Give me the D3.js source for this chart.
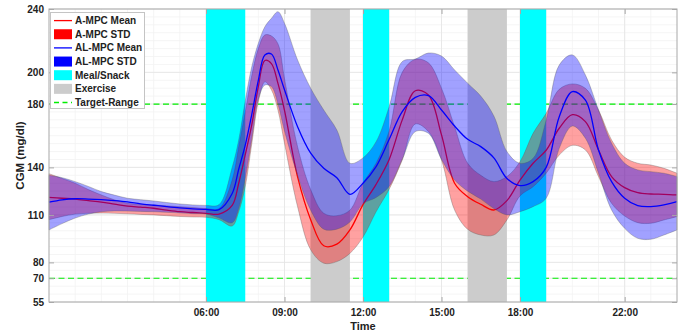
<!DOCTYPE html>
<html lang="en">
<head>
<meta charset="UTF-8">
<title>CGM: A-MPC vs AL-MPC</title>
<script src="https://cdnjs.cloudflare.com/ajax/libs/d3/7.8.5/d3.min.js"></script>
<style>
    body { margin: 0; background: #fff; }
    svg { display: block; font-family: "Liberation Sans", Arial, Helvetica, sans-serif; }
</style>
</head>
<body>
<svg width="684" height="332"></svg>
<script>

// time of day in hours
const hours = [0, 0.5, 1, 1.5, 2, 2.5, 3, 3.5, 4, 4.5, 5, 5.5, 6, 6.5, 7, 7.25, 7.5, 7.75, 8, 8.25, 8.5, 8.75, 9,
    9.5, 10, 10.5, 11, 11.5, 12, 12.5, 13, 13.5, 14, 14.5, 15, 15.5, 16, 16.5, 17, 17.5, 18, 18.5, 19, 19.5,
    20, 20.5, 21, 21.5, 22, 22.5, 23, 23.5, 24];

// A-MPC (red)
const aMean = [121, 120.5, 120, 119, 118, 116.8, 115.6, 114.9, 114.2, 113, 112, 111.5, 111, 110.5, 116, 130, 148, 167, 191, 207.5, 205.5, 193, 176,
    134, 107, 90.5, 91.5, 100.5, 116.5, 129.3, 145, 170, 188.4, 185.7, 160.5, 130, 121.5, 116.7, 113.1, 119, 132, 142.6, 150.8, 164.7,
    173.3, 168.9, 151, 134.2, 127.2, 124, 123.2, 123, 122.6];
const aUpper = [136, 133, 130, 126, 122.6, 119.5, 117.3, 116.5, 116.3, 115.7, 115.2, 114.6, 114, 114, 132, 153, 175, 198, 215, 223.6, 223, 218, 196,
    153, 126, 111, 109.5, 113, 130, 142.6, 163, 200, 208.2, 206, 190, 165.7, 142.6, 135, 131, 134.2, 143.6, 161.5, 174.1, 189.3,
    192.7, 189.9, 176.2, 157.3, 146.4, 142.6, 141.5, 139.4, 136.3];
const aLower = [107, 109, 110.5, 111, 111.2, 111, 110.7, 110.3, 110, 109.5, 109, 108.7, 108.5, 107, 103, 112, 128, 155, 181.5, 194, 189, 176.2, 155.2,
    115.2, 88, 79.5, 80.5, 85.7, 96, 112, 126.2, 144.7, 167.4, 162.6, 144.7, 113.1, 100.9, 97.3, 97.3, 106.8, 122, 127.8, 136.3, 147.8,
    153.9, 151, 134.2, 117.3, 109.3, 105.1, 104.7, 106.8, 108.9];

// AL-MPC (blue)
const alMean = [118, 119.5, 120.2, 120, 119.6, 119, 118.2, 117, 116.1, 115.2, 114.4, 113.8, 113.5, 113.3, 123.5, 138.8, 154, 173.5, 195, 211, 211.6, 201.5, 189,
    165.7, 149, 139.4, 133.5, 123, 130, 140.5, 157.7, 175.2, 184.2, 185.3, 176.2, 166.1, 157.7, 153.1, 146, 133, 128.5, 131, 140, 172,
    187.8, 182.5, 151, 131, 120.5, 115.8, 115.2, 116.3, 118.4];
const alUpper = [135, 133.5, 131, 128, 124.7, 122.5, 120.5, 119.6, 118.8, 117.8, 116.9, 116.3, 116, 116.5, 140, 157.3, 182, 203.6, 218.3, 228.8, 234.1, 238.3, 231,
    207.8, 190, 176.2, 163.6, 142.6, 146, 156.2, 178.3, 206.8, 208.4, 212.2, 210.3, 201.5, 193.1, 185, 172.5, 150, 142.6, 145.7, 169.9, 204.6,
    211, 198.3, 176.2, 155.2, 142.6, 138.4, 137.3, 136.3, 134.2];
const alLower = [100.5, 104.5, 108, 110.5, 112, 112.5, 112.4, 112.2, 112, 111.6, 111.2, 110.8, 110.5, 108, 105, 114, 133, 158, 183, 192, 191, 180, 163,
    135, 113, 101, 101, 105.5, 117, 121, 128, 145.1, 162.6, 161.5, 145, 132, 125, 120, 114, 110, 112, 115.2, 120.5, 152,
    166.1, 158.4, 136.3, 113.1, 101.5, 95.2, 94.6, 97.3, 100.5];

// events
const mealStart = [6, 12, 18];
const mealEnd = [7.5, 13, 19];
const exerciseStart = [10, 16];
const exerciseEnd = [11.5, 17.5];
const targetRange = [70, 180];

// axes
const xTicks = [6, 9, 12, 15, 18, 22];
const xTickLabels = ["06:00", "09:00", "12:00", "15:00", "18:00", "22:00"];
const yTicks = [55, 70, 80, 110, 140, 180, 200, 240];
const legendLabels = ["A-MPC Mean", "A-MPC STD", "AL-MPC Mean", "AL-MPC STD", "Meal/Snack", "Exercise", "Target-Range"];

const svg = d3.select("svg");
const plotLeft = 49, plotRight = 677, plotTop = 9, plotBottom = 302;
const axisColor = "#a8a8a8";

const x = d3.scaleLinear().domain([0, 24]).range([plotLeft, plotRight]);
const y = d3.scaleLinear().domain([55, 240]).range([plotBottom, plotTop]);

// grid, minor then major
const grid = svg.append("g");
grid.selectAll(".vminor").data(d3.range(1, 24)).enter().append("line")
    .attr("x1", d => x(d)).attr("x2", d => x(d)).attr("y1", plotTop).attr("y2", plotBottom)
    .attr("stroke", "#f2f2f2").attr("stroke-width", 0.8);
grid.selectAll(".hminor").data(d3.range(60, 240, 5)).enter().append("line")
    .attr("x1", plotLeft).attr("x2", plotRight).attr("y1", d => y(d)).attr("y2", d => y(d))
    .attr("stroke", "#f2f2f2").attr("stroke-width", 0.8);
grid.selectAll(".vmajor").data(xTicks).enter().append("line")
    .attr("x1", d => x(d)).attr("x2", d => x(d)).attr("y1", plotTop).attr("y2", plotBottom)
    .attr("stroke", "#e4e4e4").attr("stroke-width", 0.8);
grid.selectAll(".hmajor").data(yTicks).enter().append("line")
    .attr("x1", plotLeft).attr("x2", plotRight).attr("y1", d => y(d)).attr("y2", d => y(d))
    .attr("stroke", "#e4e4e4").attr("stroke-width", 0.8);

// target range lines
svg.append("g").selectAll("line").data(targetRange).enter().append("line")
    .attr("x1", plotLeft).attr("x2", plotRight).attr("y1", d => y(d)).attr("y2", d => y(d))
    .attr("stroke", "#00ee00").attr("stroke-width", 1.2).attr("stroke-dasharray", "6,3.5");

// meal and exercise windows
svg.append("g").selectAll("rect").data(mealStart).enter().append("rect")
    .attr("x", d => x(d)).attr("width", (d, i) => x(mealEnd[i]) - x(d))
    .attr("y", plotTop).attr("height", plotBottom - plotTop).attr("fill", "#00ffff");
svg.append("g").selectAll("rect").data(exerciseStart).enter().append("rect")
    .attr("x", d => x(d)).attr("width", (d, i) => x(exerciseEnd[i]) - x(d))
    .attr("y", plotTop).attr("height", plotBottom - plotTop).attr("fill", "#cccccc");

const curve = d3.curveCatmullRom.alpha(0.5);
const line = vals => d3.line().x((d, i) => x(hours[i])).y(d => y(d)).curve(curve)(vals);
const band = (lo, hi) => d3.area().x((d, i) => x(hours[i])).y0((d, i) => y(lo[i])).y1((d, i) => y(hi[i])).curve(curve)(hours);

function drawSeries(mean, lo, hi, color) {
    svg.append("path").attr("d", line(mean))
        .attr("fill", "none").attr("stroke", color).attr("stroke-width", 1.3);
    svg.append("path").attr("d", band(lo, hi))
        .attr("fill", color).attr("fill-opacity", 0.37)
        .attr("stroke", "#555").attr("stroke-opacity", 0.55).attr("stroke-width", 0.6);
}
drawSeries(aMean, aLower, aUpper, "#ff0000");
drawSeries(alMean, alLower, alUpper, "#0000ff");

// axes
const tickFont = g => g.selectAll("text").attr("font-size", 10).attr("font-weight", "bold").attr("fill", "#222");
const clean = g => { g.select(".domain").remove(); g.selectAll(".tick line").attr("stroke", axisColor); };

svg.append("g").attr("transform", `translate(0,${plotBottom})`)
    .call(d3.axisBottom(x).tickValues(xTicks).tickFormat((d, i) => xTickLabels[i]).tickSizeInner(-5).tickSizeOuter(0).tickPadding(7))
    .call(clean).call(tickFont);
svg.append("g").attr("transform", `translate(0,${plotTop})`)
    .call(d3.axisTop(x).tickValues(xTicks).tickFormat("").tickSizeInner(-5).tickSizeOuter(0))
    .call(clean);
svg.append("g").attr("transform", `translate(${plotLeft},0)`)
    .call(d3.axisLeft(y).tickValues(yTicks).tickSizeInner(-5).tickSizeOuter(0).tickPadding(5))
    .call(clean).call(tickFont);
svg.append("g").attr("transform", `translate(${plotRight},0)`)
    .call(d3.axisRight(y).tickValues(yTicks).tickFormat("").tickSizeInner(-5).tickSizeOuter(0))
    .call(clean);

svg.append("rect").attr("x", plotLeft).attr("y", plotTop).attr("width", plotRight - plotLeft).attr("height", plotBottom - plotTop)
    .attr("fill", "none").attr("stroke", axisColor).attr("stroke-width", 1);

svg.append("text").attr("x", (plotLeft + plotRight) / 2).attr("y", 330)
    .attr("text-anchor", "middle").attr("font-size", 11).attr("font-weight", "bold").attr("fill", "#222")
    .text("Time");
svg.append("text").attr("transform", `translate(24,${(plotTop + plotBottom) / 2}) rotate(-90)`)
    .attr("text-anchor", "middle").attr("font-size", 11.5).attr("font-weight", "bold").attr("fill", "#222")
    .text("CGM (mg/dl)");

// legend
const legend = svg.append("g");
legend.append("rect").attr("x", 50.5).attr("y", 12.5).attr("width", 94).attr("height", 96)
    .attr("fill", "#fff").attr("stroke", "#c4c4c4").attr("stroke-width", 1);
const icons = [
    {type: "line", color: "#ff0000"},
    {type: "rect", color: "#ff0000"},
    {type: "line", color: "#0000ff"},
    {type: "rect", color: "#0000ff"},
    {type: "rect", color: "#00ffff"},
    {type: "rect", color: "#cccccc"},
    {type: "dash", color: "#00ee00"}
];
const items = legend.selectAll(".item").data(legendLabels).enter().append("g")
    .attr("transform", (d, i) => `translate(0,${20.6 + i * 13.65})`);
items.each(function (d, i) {
    const g = d3.select(this);
    const ic = icons[i];
    if (ic.type === "rect") {
        g.append("rect").attr("x", 54).attr("y", -5).attr("width", 18).attr("height", 10).attr("fill", ic.color);
    } else {
        g.append("line").attr("x1", 54).attr("x2", 72).attr("y1", 0).attr("y2", 0)
            .attr("stroke", ic.color).attr("stroke-width", 1.3)
            .attr("stroke-dasharray", ic.type === "dash" ? "5,3.5" : null);
    }
});
items.append("text").attr("x", 75).attr("y", 0).attr("dy", "0.35em")
    .attr("font-size", 10).attr("font-weight", "bold").attr("fill", "#222")
    .text(d => d);

</script>
</body>
</html>
